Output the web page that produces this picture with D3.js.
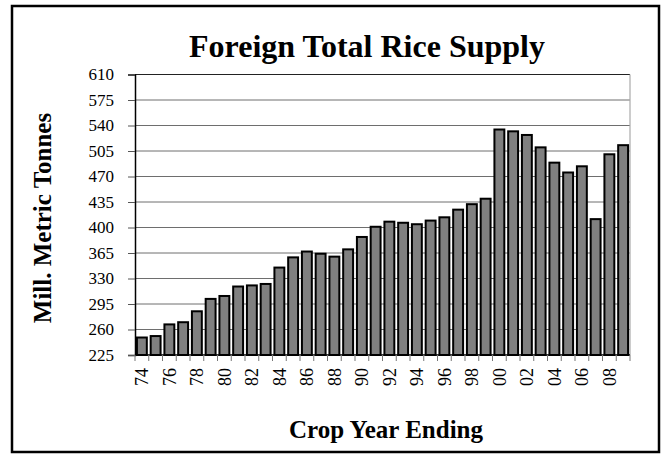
<!DOCTYPE html>
<html><head><meta charset="utf-8">
<script src="https://cdn.jsdelivr.net/npm/d3@7/dist/d3.min.js"></script>
<style>
html,body{margin:0;padding:0;background:#fff;}
svg{display:block;font-family:"Liberation Serif","Times New Roman",serif;}
</style></head>
<body>
<svg id="c" width="664" height="457"></svg>
<script>
const years = ["74","75","76","77","78","79","80","81","82","83","84","85","86","87","88","89","90","91","92","93","94","95","96","97","98","99","00","01","02","03","04","05","06","07","08","09"];
const supply = [249, 251, 267, 270, 285, 302, 306, 319, 320.5, 322.5, 345, 359, 367, 364, 360, 370, 387, 401, 408, 406.5, 404.5, 409.5, 414, 424.5, 432, 439.5, 534.5, 532, 527, 510, 489, 475.5, 484, 411.5, 500.5, 513];
const yTicks = [225,260,295,330,365,400,435,470,505,540,575,610];
const xLabels = ["74","76","78","80","82","84","86","88","90","92","94","96","98","00","02","04","06","08"];
const title = "Foreign Total Rice Supply";
const yTitle = "Mill. Metric Tonnes";
const xTitle = "Crop Year Ending";

const svg = d3.select("#c");
const L = 135, R = 630, T = 74.5, B = 355;

svg.append("rect").attr("x",12).attr("y",6).attr("width",647).attr("height",446)
  .attr("fill","#fff").attr("stroke","#000").attr("stroke-width",2.5);

const x = d3.scaleBand().domain(years).range([L,R]).paddingInner(0.28).paddingOuter(0.14);
const y = d3.scaleLinear().domain([225,610]).range([B,T]);

// gridlines
svg.append("g").selectAll("line").data(yTicks.slice(1,-1)).join("line")
  .attr("x1",L).attr("x2",R).attr("y1",d=>y(d)).attr("y2",d=>y(d))
  .attr("stroke","#6e6e6e").attr("stroke-width",1);
// plot border top and right
svg.append("line").attr("x1",L).attr("x2",R).attr("y1",T).attr("y2",T).attr("stroke","#222").attr("stroke-width",1);
svg.append("line").attr("x1",R).attr("x2",R).attr("y1",T).attr("y2",B).attr("stroke","#aaa").attr("stroke-width",1.2);

// bars
svg.append("g").selectAll("rect").data(years).join("rect")
  .attr("x",d=>x(d)).attr("width",x.bandwidth())
  .attr("y",(d,i)=>y(supply[i])).attr("height",(d,i)=>B-y(supply[i]))
  .attr("fill","#808080").attr("stroke","#000").attr("stroke-width",2);

// y axis
const yAxis = d3.axisLeft(y).tickValues(yTicks).tickSize(7).tickPadding(14).tickFormat(d3.format("d"));
const gy = svg.append("g").attr("transform",`translate(${L},0)`).call(yAxis);
gy.select(".domain").attr("stroke","#000").attr("stroke-width",1.5);
gy.selectAll(".tick line").attr("stroke","#555");
gy.selectAll("text").attr("font-family","Liberation Serif, Times New Roman, serif").attr("font-size",17).attr("fill","#000");

// x axis
const gx = svg.append("g").attr("transform",`translate(0,${B})`);
gx.append("line").attr("x1",L).attr("x2",R).attr("stroke","#000").attr("stroke-width",1.5);
const bounds = years.map(d=>x(d)-x.step()*x.paddingInner()/2).concat([R]);
gx.selectAll("line.t").data(bounds).join("line").attr("class","t")
  .attr("x1",d=>d).attr("x2",d=>d).attr("y1",0).attr("y2",6).attr("stroke","#777");
gx.selectAll("text").data(xLabels).join("text")
  .attr("transform",d=>`translate(${x(d)+x.bandwidth()/2+6.5},${13}) rotate(-90)`)
  .attr("text-anchor","end").attr("font-size",18).text(d=>d);

// titles
svg.append("text").attr("x",367).attr("y",57).attr("text-anchor","middle")
  .attr("font-size",32).attr("font-weight","bold").text(title);
svg.append("text").attr("transform","translate(51,218) rotate(-90)").attr("text-anchor","middle")
  .attr("font-size",25).attr("font-weight","bold").text(yTitle);
svg.append("text").attr("x",386).attr("y",438).attr("text-anchor","middle")
  .attr("font-size",25).attr("font-weight","bold").text(xTitle);
</script>
</body></html>
